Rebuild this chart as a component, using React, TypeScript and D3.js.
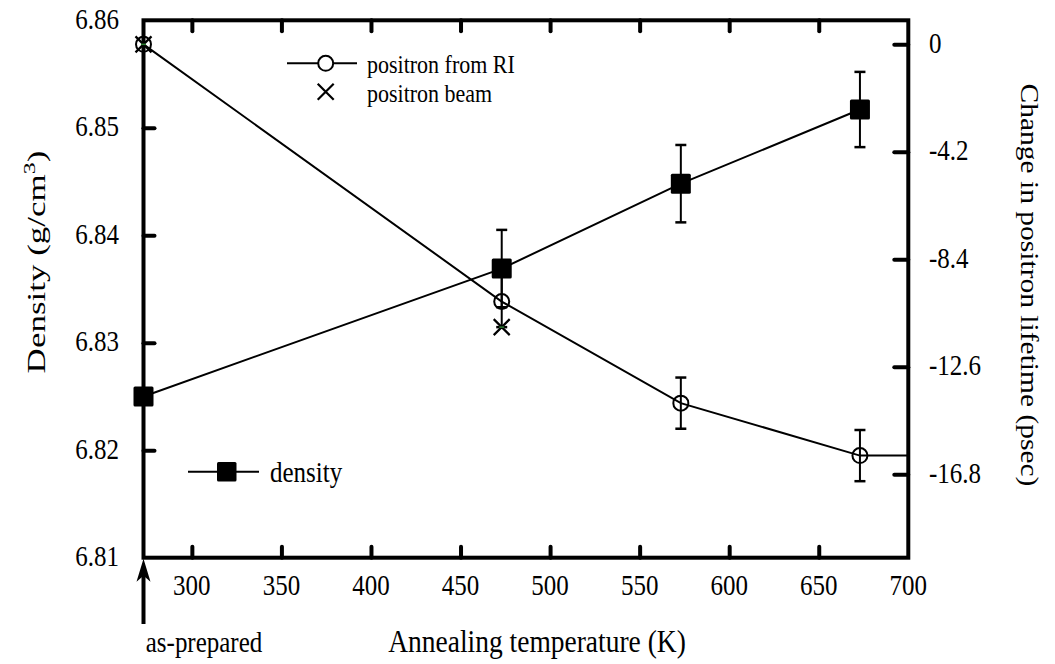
import React, { useEffect, useRef } from "react";
import * as d3 from "d3";

// density (left axis)
const densTemps = [273, 473, 573, 673];
const density = [6.825, 6.8369, 6.8448, 6.8517];
const densityErr = [0, 0.0036, 0.0036, 0.0035];

// positron from RI (right axis)
const riTemps = [273, 473, 573, 673, 700];
const riChange = [0, -10.05, -14.02, -16.07, -16.07];
const riErr = [0, 1.0, 1.0, 1.0, 0];
const riMarked = [true, true, true, true, false];

// positron beam (right axis)
const beamTemps = [273, 473];
const beamChange = [0, -11.05];

const xTicks = [300, 350, 400, 450, 500, 550, 600, 650, 700];
const leftTicks = [6.81, 6.82, 6.83, 6.84, 6.85, 6.86];
const rightTicks = [0, -4.2, -8.4, -12.6, -16.8];

const FONT = "'Liberation Serif', 'Times New Roman', serif";
const STRETCH = 1.18; // text in the source is drawn a bit tall

export default function App() {
  const svgRef = useRef<SVGSVGElement>(null);
  const width = 1055,
    height = 664;
  const margin = { left: 143.5, right: 1055 - 908.3, top: 20.3, bottom: 664 - 557.7 };

  useEffect(() => {
    const svg = d3.select(svgRef.current);
    svg.selectAll("*").remove();
    const x0 = margin.left,
      x1 = width - margin.right,
      y0 = margin.top,
      y1 = height - margin.bottom;

    const x = d3.scaleLinear().domain([273, 700]).range([x0, x1]);
    const yL = d3.scaleLinear().domain([6.81, 6.86]).range([y1, y0]);
    const yR = d3.scaleLinear().domain([-20.06, 0.94]).range([y1, y0]);

    const g = svg.append("g").attr("font-family", FONT).attr("fill", "#000");

    // tall text helper (horizontal)
    const label = (tx: number, ty: number, txt: string, size: number, anchor = "start", sx = 1, sy = STRETCH) =>
      g
        .append("text")
        .attr("transform", `translate(${tx},${ty}) scale(${sx},${sy})`)
        .attr("text-anchor", anchor)
        .attr("font-size", size)
        .attr("font-family", FONT)
        .text(txt);

    const styleTicks = (sel: any) => {
      sel.select(".domain").remove();
      sel.selectAll(".tick text").remove();
      sel.selectAll(".tick line").attr("stroke", "#000").attr("stroke-width", 4).attr("stroke-linecap", "round");
    };

    // tick marks (inside)
    g.append("g")
      .attr("transform", `translate(0,${y1})`)
      .call(d3.axisBottom(x).tickValues(xTicks.slice(0, -1)).tickSize(-11))
      .call(styleTicks);
    g.append("g")
      .attr("transform", `translate(0,${y0})`)
      .call(d3.axisTop(x).tickValues(xTicks.slice(0, -1)).tickSize(-11))
      .call(styleTicks);
    g.append("g")
      .attr("transform", `translate(${x0},0)`)
      .call(d3.axisLeft(yL).tickValues(leftTicks.slice(1, -1)).tickSize(-11))
      .call(styleTicks);
    g.append("g")
      .attr("transform", `translate(${x1},0)`)
      .call(d3.axisRight(yR).tickValues(rightTicks).tickSize(-14))
      .call(styleTicks);

    // tick labels
    xTicks.forEach((t) => label(x(t), 595, String(t), 25, "middle"));
    leftTicks.forEach((v) => label(119, yL(v) + 8.5, d3.format(".2f")(v), 25, "end"));
    rightTicks.forEach((v) => label(929, yR(v) + 8.5, v === 0 ? "0" : v.toFixed(1), 25, "start"));

    // frame
    g.append("rect")
      .attr("x", x0)
      .attr("y", y0)
      .attr("width", x1 - x0)
      .attr("height", y1 - y0)
      .attr("fill", "none")
      .attr("stroke", "#000")
      .attr("stroke-width", 4);

    // density series
    const dens = densTemps.map((t, i) => ({ t, v: density[i], e: densityErr[i] }));
    g.append("path")
      .datum(dens)
      .attr("fill", "none")
      .attr("stroke", "#000")
      .attr("stroke-width", 2)
      .attr("d", d3.line<any>().x((d) => x(d.t)).y((d) => yL(d.v)));

    // RI series
    const ri = riTemps.map((t, i) => ({ t, v: riChange[i], e: riErr[i], m: riMarked[i] }));
    g.append("path")
      .datum(ri)
      .attr("fill", "none")
      .attr("stroke", "#000")
      .attr("stroke-width", 2)
      .attr("d", d3.line<any>().x((d) => x(d.t)).y((d) => yR(d.v)));

    const errBars = (data: any[], yScale: any) => {
      data
        .filter((d) => d.e > 0)
        .forEach((d) => {
          const cx = x(d.t),
            ya = yScale(d.v + d.e),
            yb = yScale(d.v - d.e);
          const eg = g.append("g").attr("stroke", "#000").attr("stroke-width", 2);
          eg.append("line").attr("x1", cx).attr("x2", cx).attr("y1", ya).attr("y2", yb);
          eg.append("line").attr("x1", cx - 5.5).attr("x2", cx + 5.5).attr("y1", ya).attr("y2", ya).attr("stroke-width", 2.5);
          eg.append("line").attr("x1", cx - 5.5).attr("x2", cx + 5.5).attr("y1", yb).attr("y2", yb).attr("stroke-width", 2.5);
        });
    };
    errBars(dens, yL);
    errBars(ri, yR);

    g.selectAll(".sq")
      .data(dens)
      .join("rect")
      .attr("x", (d) => x(d.t) - 10)
      .attr("y", (d) => yL(d.v) - 10)
      .attr("width", 20)
      .attr("height", 20)
      .attr("rx", 1.5)
      .attr("fill", "#000");

    g.selectAll(".circ")
      .data(ri.filter((d) => d.m))
      .join("circle")
      .attr("cx", (d) => x(d.t))
      .attr("cy", (d) => yR(d.v))
      .attr("r", 7.5)
      .attr("fill", "none")
      .attr("stroke", "#000")
      .attr("stroke-width", 2);

    const drawX = (cx: number, cy: number) => {
      const s = 8;
      g.append("path")
        .attr("d", `M${cx - s},${cy - s}L${cx + s},${cy + s}M${cx - s},${cy + s}L${cx + s},${cy - s}`)
        .attr("stroke", "#000")
        .attr("stroke-width", 2.2)
        .attr("fill", "none");
    };
    beamTemps.forEach((t, i) => {
      drawX(x(t), yR(beamChange[i]));
      g.append("line")
        .attr("x1", x(t) - 2.5)
        .attr("x2", x(t) + 2.5)
        .attr("y1", yR(beamChange[i]))
        .attr("y2", yR(beamChange[i]))
        .attr("stroke", "#2e7d32")
        .attr("stroke-width", 1.5);
    });

    // legends
    g.append("line").attr("x1", 287).attr("x2", 357).attr("y1", 63.3).attr("y2", 63.3).attr("stroke", "#000").attr("stroke-width", 2);
    g.append("circle").attr("cx", 325.7).attr("cy", 63.3).attr("r", 7.5).attr("fill", "#fff").attr("stroke", "#000").attr("stroke-width", 2);
    label(367, 73, "positron from RI", 22);
    drawX(325.7, 91.7);
    label(367, 102, "positron beam", 22);

    g.append("line").attr("x1", 188).attr("x2", 259).attr("y1", 471.7).attr("y2", 471.7).attr("stroke", "#000").attr("stroke-width", 2);
    g.append("rect").attr("x", 217).attr("y", 462).attr("width", 19.5).attr("height", 19.5).attr("rx", 1.5).attr("fill", "#000");
    label(270, 482, "density", 25);

    // as-prepared arrow
    const ax = x(273);
    g.append("line").attr("x1", ax).attr("x2", ax).attr("y1", y1 + 16).attr("y2", 624).attr("stroke", "#000").attr("stroke-width", 4);
    g.append("path")
      .attr("d", `M${ax},${y1 + 1}L${ax - 7},${y1 + 24}L${ax},${y1 + 18}L${ax + 7},${y1 + 24}Z`)
      .attr("fill", "#000");

    // titles
    label(204, 652, "as-prepared", 25, "middle");
    label(537, 652, "Annealing temperature (K)", 27.5, "middle");

    const lt = g
      .append("text")
      .attr("transform", `translate(45,262) rotate(-90) scale(1.4,1)`)
      .attr("text-anchor", "middle")
      .attr("font-size", 25)
      .attr("font-family", FONT);
    lt.append("tspan").text("Density (g/cm");
    lt.append("tspan").attr("dy", -10).attr("font-size", 17).text("3");
    lt.append("tspan").attr("dy", 10).text(")");

    g.append("text")
      .attr("transform", `translate(1021,285) rotate(90) scale(${STRETCH},1)`)
      .attr("text-anchor", "middle")
      .attr("font-size", 25)
      .attr("font-family", FONT)
      .text("Change in positron lifetime (psec)");
  }, []);

  return (
    <svg ref={svgRef} width={width} height={height} style={{ position: "absolute", left: 0, top: 0, background: "#fff" }} />
  );
}
